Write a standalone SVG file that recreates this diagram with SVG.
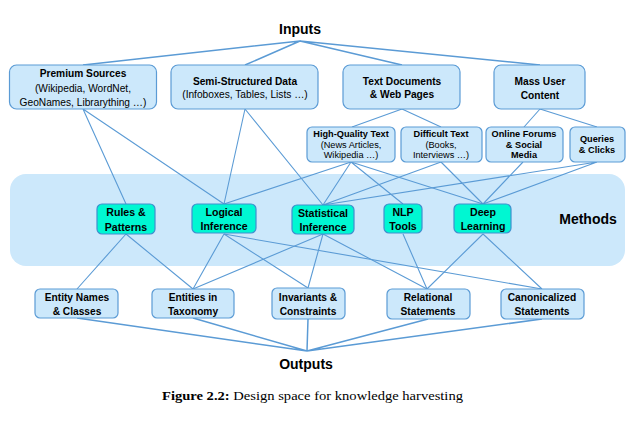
<svg xmlns="http://www.w3.org/2000/svg" width="640" height="435" viewBox="0 0 640 435">
<style>
.box{fill:#cce8fb;stroke:#5b9bd5;stroke-width:1.2}
.mbox{fill:#00f7d2;stroke:#3f8fcf;stroke-width:1.2}
.band{fill:#cce8fb}
.e{stroke:#5b9bd5;stroke-width:1.1;fill:none}
.et{stroke:#5b9bd5;stroke-width:1.5;fill:none}
text{font-family:"Liberation Sans",Arial,sans-serif;fill:#000;text-anchor:middle}
.b{font-weight:bold}
.t10{font-size:10.2px}
.tm{font-size:10.6px}
.t9{font-size:9.2px}
.big{font-size:14px;font-weight:bold}
.cap{font-family:"Liberation Serif","Times New Roman",serif;font-size:13px;text-anchor:start}
</style>
<rect class="band" x="10" y="174" width="615" height="92" rx="16"/>
<g id="connectors">
<path class="et" d="M300,41 L83,65 M300,41 L245,65 M300,41 L402,65 M300,41 L540,65"/>
<path class="e" d="M402,109 L352,127 M402,109 L441,127 M540,109 L524,127 M540,109 L597,127"/>
<path class="e" d="M83,109 L126,204 M83,109 L224,204 M245,109 L224,204 M245,109 L323,205"/>
<path class="e" d="M351,162 L224,204 M351,162 L323,205 M351,162 L403,204 M351,162 L483,204"/>
<path class="e" d="M441,162 L323,205 M441,162 L483,204 M523,162 L483,204 M597,162 L323,205 M597,162 L483,204"/>
<path class="e" d="M126,234 L77,289 M126,234 L193,289"/>
<path class="e" d="M224,234 L193,289 M224,234 L308,288 M224,234 L542,289"/>
<path class="e" d="M323,234 L193,289 M323,234 L308,288 M323,234 L427,289"/>
<path class="e" d="M403,234 L427,289 M483,234 L427,289 M483,234 L542,289"/>
<path class="et" d="M77,318 L307,351 M193,318 L307,351 M308,319 L307,351 M428,319 L307,351 M542,319 L307,351"/>
</g>
<g id="inputs"><text class="big" x="300" y="34">Inputs</text></g>
<g id="premium"><rect class="box" x="9.5" y="65" width="147" height="44" rx="7"/>
<text class="t10 b" x="83" y="76.5">Premium Sources</text>
<text class="t10" x="83" y="91.5">(Wikipedia, WordNet,</text>
<text class="t10" x="83" y="105.5">GeoNames, Librarything …)</text></g>
<g id="semi"><rect class="box" x="171" y="65" width="147" height="44" rx="7"/>
<text class="t10 b" x="245" y="84.5">Semi-Structured Data</text>
<text class="t10" x="245" y="97.5">(Infoboxes, Tables, Lists …)</text></g>
<g id="textdocs"><rect class="box" x="343" y="65" width="117" height="44" rx="7"/>
<text class="t10 b" x="402" y="84.5">Text Documents</text>
<text class="t10 b" x="402" y="98">&amp; Web Pages</text></g>
<g id="massuser"><rect class="box" x="494" y="65" width="91" height="44" rx="7"/>
<text class="t10 b" x="540" y="84.5">Mass User</text>
<text class="t10 b" x="540" y="98.5">Content</text></g>
<g id="hq"><rect class="box" x="307" y="127" width="88" height="35" rx="5"/>
<text class="t9 b" x="351" y="137.3">High-Quality Text</text>
<text class="t9" x="351" y="147.5">(News Articles,</text>
<text class="t9" x="351" y="157.5">Wikipedia …)</text></g>
<g id="difficult"><rect class="box" x="401" y="127" width="81" height="35" rx="5"/>
<text class="t9 b" x="441" y="137.3">Difficult Text</text>
<text class="t9" x="441" y="147.5">(Books,</text>
<text class="t9" x="441" y="157.5">Interviews …)</text></g>
<g id="forums"><rect class="box" x="486" y="127" width="77" height="35" rx="5"/>
<text class="t9 b" x="524" y="137.3">Online Forums</text>
<text class="t9 b" x="524" y="147.5">&amp; Social</text>
<text class="t9 b" x="524" y="157.8">Media</text></g>
<g id="queries"><rect class="box" x="570" y="127" width="55" height="35" rx="5"/>
<text class="t9 b" x="597" y="142.3">Queries</text>
<text class="t9 b" x="597" y="153">&amp; Clicks</text></g>
<g id="methods"><text class="big" x="588" y="224">Methods</text></g>
<g id="rules"><rect class="mbox" x="97" y="204" width="58" height="30" rx="5"/>
<text class="tm b" x="126" y="216">Rules &amp;</text>
<text class="tm b" x="126" y="230.5">Patterns</text></g>
<g id="logical"><rect class="mbox" x="192" y="204" width="64" height="29" rx="5"/>
<text class="tm b" x="224" y="216">Logical</text>
<text class="tm b" x="224" y="230">Inference</text></g>
<g id="statistical"><rect class="mbox" x="292" y="205" width="62" height="29" rx="5"/>
<text class="tm b" x="323" y="217">Statistical</text>
<text class="tm b" x="323" y="231">Inference</text></g>
<g id="nlp"><rect class="mbox" x="384" y="204" width="38" height="29" rx="5"/>
<text class="tm b" x="403" y="216">NLP</text>
<text class="tm b" x="403" y="230">Tools</text></g>
<g id="deep"><rect class="mbox" x="454" y="204" width="57" height="29" rx="5"/>
<text class="tm b" x="483" y="216">Deep</text>
<text class="tm b" x="483" y="230">Learning</text></g>
<g id="entitynames"><rect class="box" x="35" y="289" width="83" height="29" rx="5"/>
<text class="t10 b" x="77" y="300.5">Entity Names</text>
<text class="t10 b" x="77" y="315">&amp; Classes</text></g>
<g id="taxonomy"><rect class="box" x="152" y="289" width="82" height="29" rx="5"/>
<text class="t10 b" x="193" y="300.5">Entities in</text>
<text class="t10 b" x="193" y="315">Taxonomy</text></g>
<g id="invariants"><rect class="box" x="272" y="288" width="73" height="31" rx="5"/>
<text class="t10 b" x="308" y="300.5">Invariants &amp;</text>
<text class="t10 b" x="308" y="315">Constraints</text></g>
<g id="relational"><rect class="box" x="387" y="289" width="83" height="30" rx="5"/>
<text class="t10 b" x="428" y="300.5">Relational</text>
<text class="t10 b" x="428" y="315">Statements</text></g>
<g id="canonical"><rect class="box" x="501" y="289" width="83" height="30" rx="5"/>
<text class="t10 b" x="542" y="300.5">Canonicalized</text>
<text class="t10 b" x="542" y="315">Statements</text></g>
<g id="outputs"><text class="big" x="306" y="369">Outputs</text></g>
<text class="cap" x="162" y="400" textLength="301" lengthAdjust="spacingAndGlyphs"><tspan font-weight="bold">Figure 2.2:</tspan> Design space for knowledge harvesting</text>
</svg>
